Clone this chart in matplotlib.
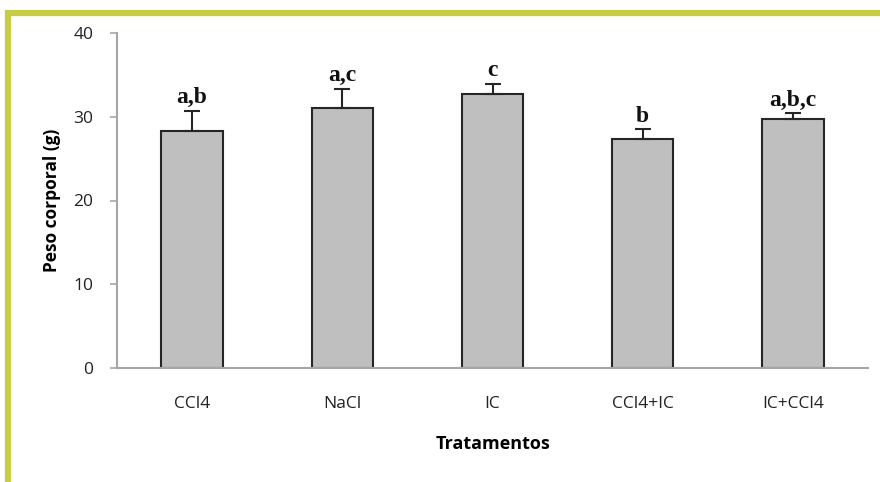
import matplotlib.pyplot as plt
from matplotlib.lines import Line2D

# Data
tratamentos = ['CCl4', 'NaCl', 'IC', 'CCl4+IC', 'IC+CCl4']
peso = [28.3, 31.0, 32.7, 27.3, 29.7]
erro = [2.4, 2.3, 1.2, 1.2, 0.7]
letras = ['a,b', 'a,c', 'c', 'b', 'a,b,c']

fig = plt.figure(figsize=(8.8, 4.82), dpi=100)
ax = fig.add_axes([117 / 880, 1 - 368 / 482, (868 - 117) / 880, (368 - 33) / 482])

# Yellow-green frame on the top and left
fig.add_artist(Line2D([5 / 880, 1], [1 - 13 / 482, 1 - 13 / 482], color='#c8cc44', lw=4.5,
                      transform=fig.transFigure, solid_capstyle='butt'))
fig.add_artist(Line2D([8 / 880, 8 / 880], [0, 1 - 10 / 482], color='#c8cc44', lw=4.5,
                      transform=fig.transFigure, solid_capstyle='butt'))

x = range(len(tratamentos))
ax.bar(x, peso, width=0.41, color='#bfbfbf', edgecolor='#262626', linewidth=1.5, zorder=2)
ax.errorbar(x, peso, yerr=[[0] * len(erro), erro], fmt='none', ecolor='#262626',
            elinewidth=1.5, capsize=6, capthick=1.5, zorder=3)

for xi, p, e, l in zip(x, peso, erro, letras):
    ax.annotate(l, (xi, p + e), xytext=(0, 2), textcoords='offset points',
                ha='center', va='bottom', fontsize=17, fontweight='bold',
                family='Liberation Serif', color='#111111')

ax.set_xlim(-0.5, len(tratamentos) - 0.5)
ax.set_ylim(0, 40)
ax.set_yticks([0, 10, 20, 30, 40])
ax.set_xticks(list(x))
ax.set_xticklabels(tratamentos)

for s in ['top', 'right']:
    ax.spines[s].set_visible(False)
for s in ['left', 'bottom']:
    ax.spines[s].set_color('#a6a6a6')
    ax.spines[s].set_linewidth(1.5)

ax.tick_params(axis='y', length=5, width=1.2, color='#a6a6a6', labelsize=12.5, pad=12)
ax.tick_params(axis='x', length=0, labelsize=12.5, pad=20)
for t in ax.get_xticklabels() + ax.get_yticklabels():
    t.set_family('Open Sans')
    t.set_color('#222222')

ax.set_ylabel('Peso corporal (g)', fontsize=12.5, fontweight='bold', family='Open Sans', labelpad=9)
ax.set_xlabel('Tratamentos', fontsize=13, fontweight='bold', family='Open Sans', labelpad=17)

fig.savefig('out.png', dpi=100)
